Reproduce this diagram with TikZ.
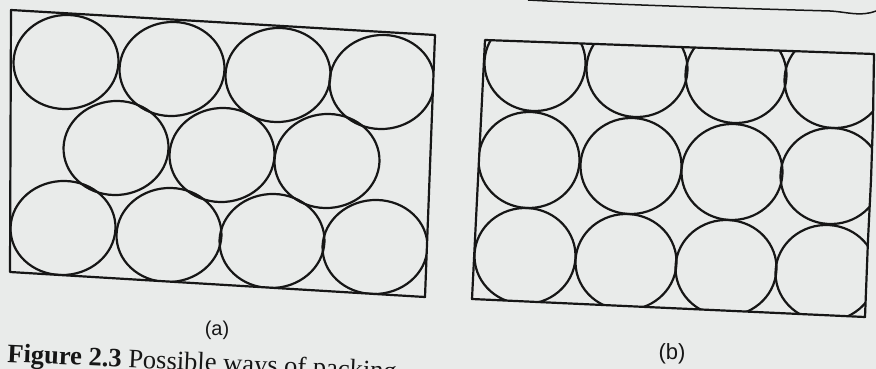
\documentclass[tikz,border=0pt]{standalone}
\usepackage{fontspec}
\setmainfont{Liberation Serif}
\newfontfamily\labelfont{Liberation Sans}
\definecolor{paper}{RGB}{233,235,234}
\definecolor{inkc}{RGB}{22,22,22}
\begin{document}
\begin{tikzpicture}[x=1pt,y=-1pt,
  ink/.style={draw=inkc, line width=2.2pt, line join=round},
  lbl/.style={inner sep=0pt, text=inkc, font=\labelfont\fontsize{20}{22}\selectfont},
  captext/.style={inner sep=0pt, text=inkc, anchor=base west, rotate=-2.6,
              font=\fontsize{26.5}{30}\selectfont}]
\useasboundingbox (0,0) rectangle (876,369);
\clip (0,0) rectangle (876,369);
\fill[paper] (0,0) rectangle (876,369);

% ---------- panel (a): close packing ----------
\coordinate (a1) at (11,10);
\coordinate (a2) at (435,35);
\coordinate (a3) at (425,297);
\coordinate (a4) at (10,272);
\begin{scope}
  \clip (a1) -- (a2) -- (a3) -- (a4) -- cycle;
  \foreach \cx/\cy in {66/62, 172/69, 278/75, 382/82,
                       116/148, 222/155, 327/161,
                       63/228, 169/235, 272/241, 375/247}
    \draw[ink, shift={(\cx,\cy)}, rotate=4] (0,0) ellipse [x radius=52.5, y radius=47];
\end{scope}
\draw[ink] (a1) -- (a2) -- (a3) -- (a4) -- cycle;

% ---------- panel (b): square packing ----------
\coordinate (b1) at (485,40);
\coordinate (b2) at (874,54);
\coordinate (b3) at (865,317);
\coordinate (b4) at (472,299);
\begin{scope}
  \clip (b1) -- (b2) -- (873,120) -- (871,180) -- (868,240) -- (b3) -- (b4) -- cycle;
  \foreach \cx/\cy in {535/63, 637/69, 736/75, 835/80,
                       529/160, 631/166, 732/172, 831/176,
                       525/256, 626/262, 726/268, 826/273}
    \draw[ink, shift={(\cx,\cy)}, rotate=2] (0,0) ellipse [x radius=50.5, y radius=48];
\end{scope}
\draw[ink] (b1) -- (b2) -- (873,120) -- (871,180) -- (868,240) -- (b3) -- (b4) -- cycle;

% page edge at the top right
\draw[draw=inkc, line width=1.5pt] (528,0) .. controls (620,5) and (760,9) .. (830,11)
  .. controls (848,12) and (860,17) .. (876,11);

% ---------- labels ----------
\node[lbl] (la) at (217,330) {(a)};
\node[lbl, font=\labelfont\fontsize{22}{24}\selectfont] (lb) at (672,354) {(b)};
\node[captext] (caption) at (7,362) {\textbf{Figure 2.3} Possible ways of packing};
\end{tikzpicture}
\end{document}
